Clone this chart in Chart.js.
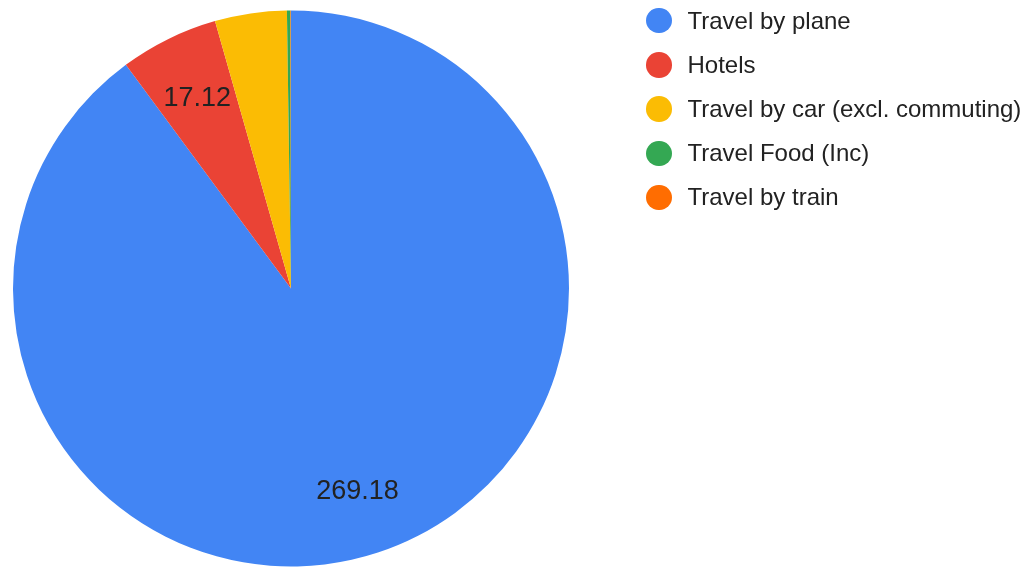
<!DOCTYPE html>
<html>
<head>
<meta charset="utf-8">
<script src="https://cdn.jsdelivr.net/npm/chart.js@4.4.1/dist/chart.umd.min.js"></script>
<style>
  html, body { margin: 0; padding: 0; background: #fff; }
  #wrap { position: relative; width: 1025px; height: 568px; }
  #pieChart { position: absolute; left: 0; top: 0; }
  #legend {
    position: absolute; left: 646px; top: -1.4px; margin: 0; padding: 0;
    list-style: none; font-family: "Liberation Sans", Arial, sans-serif;
    font-size: 24px; color: #222;
  }
  #legend li { display: flex; align-items: center; height: 44.2px; }
  #legend span.dot {
    display: inline-block; width: 25.5px; height: 25.5px; border-radius: 50%;
    margin-right: 16px;
  }
</style>
</head>
<body>
<div id="wrap">
  <canvas id="pieChart" width="1025" height="568"></canvas>
  <ul id="legend"></ul>
</div>
<script>
const categories = [
  "Travel by plane",
  "Hotels",
  "Travel by car (excl. commuting)",
  "Travel Food (Inc)",
  "Travel by train",
];
const values = [269.18, 17.12, 12.5, 0.6, 0.1];
const colors = ["#4285f4", "#ea4335", "#fbbc04", "#34a853", "#ff6d01"];

// slice labels, placed like Google Charts (about 3/4 out from the centre)
const sliceLabels = {
  id: "sliceLabels",
  afterDatasetsDraw(chart) {
    const ctx = chart.ctx;
    const meta = chart.getDatasetMeta(0);
    const total = values.reduce((a, b) => a + b, 0);
    ctx.save();
    ctx.font = "27px 'Liberation Sans', Arial, sans-serif";
    ctx.fillStyle = "#222";
    ctx.textAlign = "center";
    ctx.textBaseline = "middle";
    meta.data.forEach((arc, i) => {
      if (values[i] / total < 0.05) return;
      const mid = (arc.startAngle + arc.endAngle) / 2;
      const r = arc.outerRadius * 0.765;
      ctx.fillText(
        values[i].toFixed(2),
        arc.x + Math.cos(mid) * r,
        arc.y + Math.sin(mid) * r + 1
      );
    });
    ctx.restore();
  },
};

const ctxPie = document.getElementById("pieChart").getContext("2d");
new Chart(ctxPie, {
  type: "pie",
  data: {
    labels: categories,
    datasets: [
      {
        data: values,
        backgroundColor: colors,
        borderWidth: 0,
      },
    ],
  },
  options: {
    responsive: false,
    animation: false,
    layout: {
      padding: { left: 13, top: 10, right: 456, bottom: 1 },
    },
    plugins: {
      legend: { display: false },
      tooltip: { enabled: false },
    },
  },
  plugins: [sliceLabels],
});

// html legend built from the same arrays
const legendEl = document.getElementById("legend");
categories.forEach((name, i) => {
  const li = document.createElement("li");
  const dot = document.createElement("span");
  dot.className = "dot";
  dot.style.background = colors[i];
  li.appendChild(dot);
  li.appendChild(document.createTextNode(name));
  legendEl.appendChild(li);
});
</script>
</body>
</html>
